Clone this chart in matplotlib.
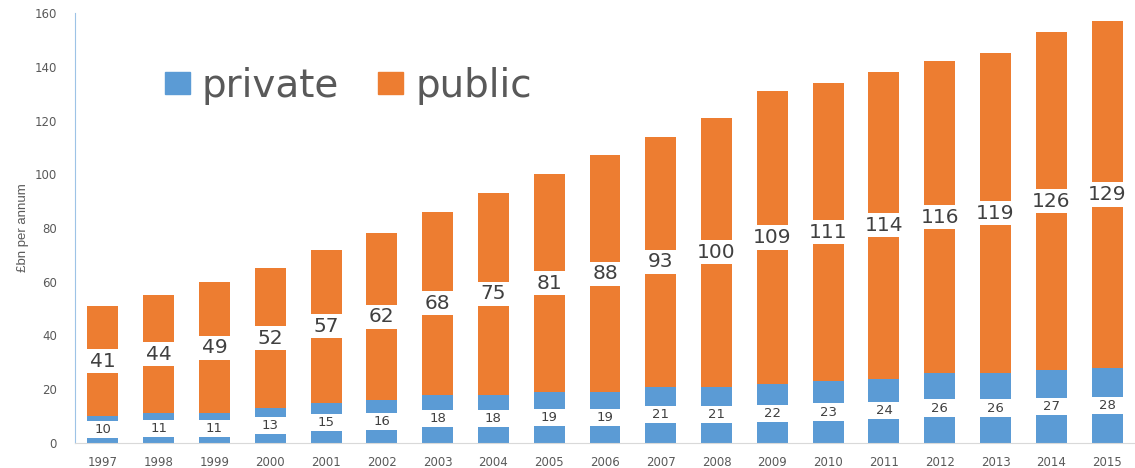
import matplotlib
matplotlib.use("Agg")
import matplotlib.pyplot as plt
from matplotlib.patches import Patch
import numpy as np

YEARS = [str(y) for y in range(1997, 2016)]
PRIVATE = [10, 11, 11, 13, 15, 16, 18, 18, 19, 19, 21, 21, 22, 23, 24, 26, 26, 27, 28]
PUBLIC = [41, 44, 49, 52, 57, 62, 68, 75, 81, 88, 93, 100, 109, 111, 114, 116, 119, 126, 129]

BLUE = "#5B9BD5"
ORANGE = "#ED7D31"
GREY_TEXT = "#595959"
LABEL_TEXT = "#404040"


def main() -> int:
    fig = plt.figure(figsize=(11.35, 4.68), dpi=100)
    ax = fig.add_axes([75 / 1135, 25 / 468, 1060 / 1135, 430 / 468])

    x = np.arange(len(YEARS))
    priv = np.array(PRIVATE)
    pub = np.array(PUBLIC)
    width = 0.555

    ax.bar(x, priv, width, color=BLUE, label="private", zorder=2)
    ax.bar(x, pub, width, bottom=priv, color=ORANGE, label="public", zorder=2)

    # white label boxes, bar-wide, centred in each segment
    priv_mid = priv / 2
    pub_mid = priv + pub / 2
    priv_box, pub_box = 6.4, 9.0
    ax.bar(x, priv_box, width, bottom=priv_mid - priv_box / 2, color="white", zorder=3)
    ax.bar(x, pub_box, width, bottom=pub_mid - pub_box / 2, color="white", zorder=3)

    for i in range(len(YEARS)):
        ax.text(x[i], priv_mid[i], str(PRIVATE[i]), ha="center", va="center",
                fontsize=9.5, color=LABEL_TEXT, zorder=4)
        ax.text(x[i], pub_mid[i], str(PUBLIC[i]), ha="center", va="center",
                fontsize=14.5, color=LABEL_TEXT, zorder=4)

    ax.set_xlim(-0.5, len(YEARS) - 0.5)
    ax.set_ylim(0, 160)
    ax.set_yticks(range(0, 161, 20))
    ax.set_xticks(x)
    ax.set_xticklabels(YEARS)
    ax.tick_params(axis="both", length=0, labelsize=8.5, colors=GREY_TEXT)
    ax.tick_params(axis="y", pad=13)
    ax.tick_params(axis="x", pad=9)

    for side in ["top", "right"]:
        ax.spines[side].set_visible(False)
    ax.spines["left"].set_color("#9DC3E6")
    ax.spines["bottom"].set_color("#D9D9D9")

    ax.set_ylabel("£bn per annum", fontsize=9.5, color=GREY_TEXT,
                  family=["Liberation Sans Narrow", "Liberation Sans"], labelpad=4)

    handles = [Patch(color=BLUE), Patch(color=ORANGE)]
    fig.legend(handles, ["private", "public"], loc="upper left",
               bbox_to_anchor=(130 / 1135, 1 - 32 / 468), ncol=2,
               frameon=False, fontsize=28, labelcolor=GREY_TEXT,
               handlelength=0.65, handleheight=0.5, handletextpad=0.3,
               columnspacing=1.0)

    fig.savefig("out.png", dpi=100)
    plt.close(fig)
    return 0


if __name__ == "__main__":
    raise SystemExit(main())
